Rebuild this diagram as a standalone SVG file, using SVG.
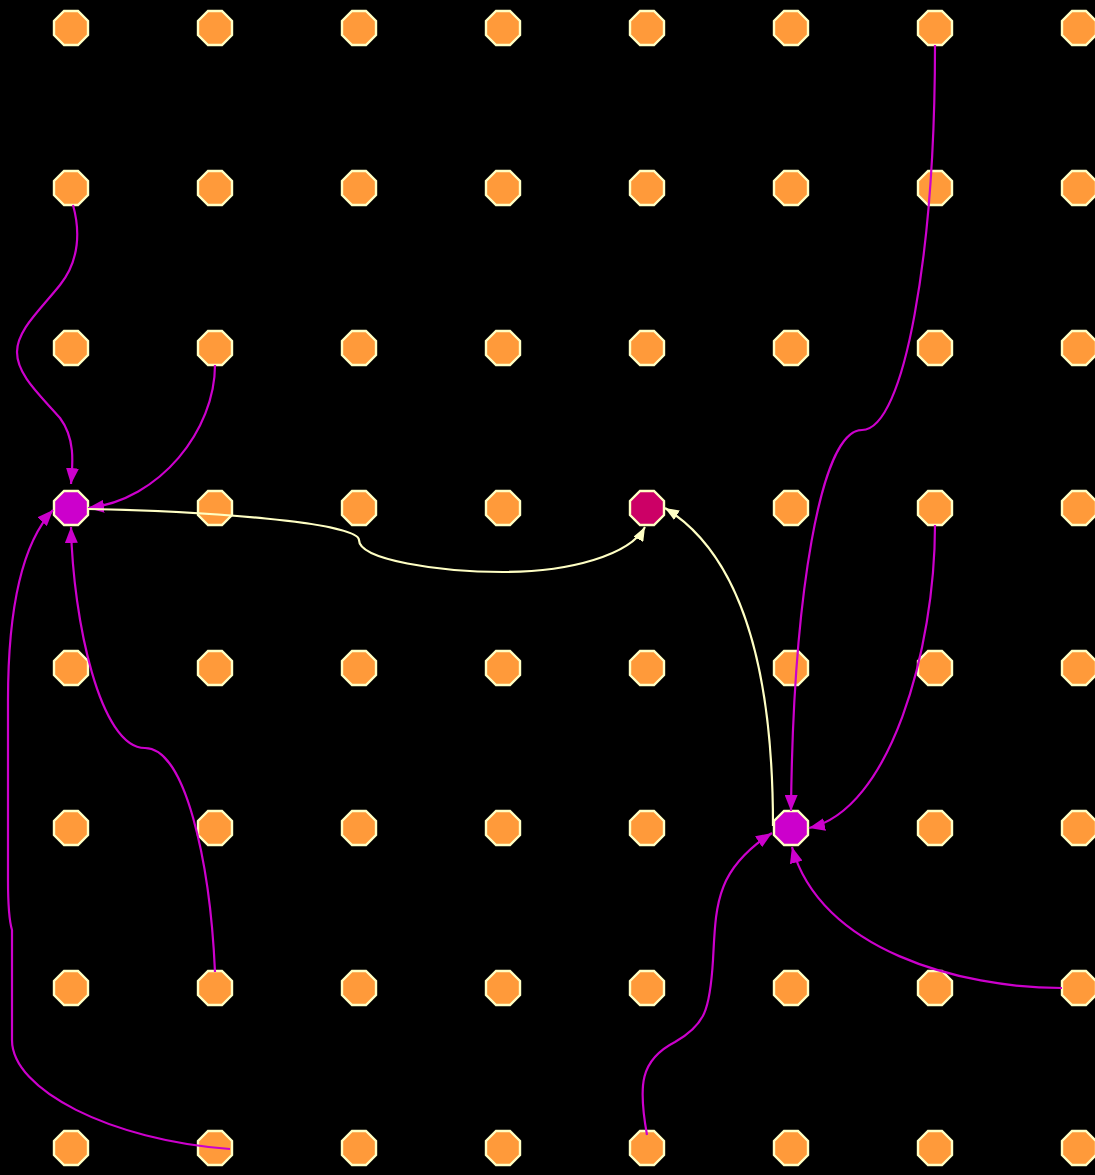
<svg xmlns="http://www.w3.org/2000/svg" xmlns:xlink="http://www.w3.org/1999/xlink" width="1095" height="1175" viewBox="0 0 1095 1175">
<style>
.n{fill:#ff9a3a;stroke:#ffffc4;stroke-width:2.4}
.m{fill:#cc00cc}
.c{fill:#cc0066}
.e{fill:none;stroke-width:2.2}
.em{stroke:#cc00cc;marker-end:url(#am)}
.ey{stroke:#ffffc4;marker-end:url(#ay)}
</style>
<defs>
<polygon id="oct" points="-7,-17 7,-17 17,-7 17,7 7,17 -7,17 -17,7 -17,-7"/>
<marker id="am" markerUnits="userSpaceOnUse" markerWidth="17" markerHeight="13" refX="16" refY="6.5" orient="auto"><path d="M0,0 L16,6.5 L0,13 z" fill="#cc00cc"/></marker>
<marker id="ay" markerUnits="userSpaceOnUse" markerWidth="15" markerHeight="11" refX="14" refY="5.5" orient="auto"><path d="M0,0 L14,5.5 L0,11 z" fill="#ffffc4"/></marker>
</defs>
<rect width="1095" height="1175" fill="#000"/>
<g id="nodes">
<g id="n0_0"><use href="#oct" class="n" x="71" y="28"/></g>
<g id="n0_1"><use href="#oct" class="n" x="215" y="28"/></g>
<g id="n0_2"><use href="#oct" class="n" x="359" y="28"/></g>
<g id="n0_3"><use href="#oct" class="n" x="503" y="28"/></g>
<g id="n0_4"><use href="#oct" class="n" x="647" y="28"/></g>
<g id="n0_5"><use href="#oct" class="n" x="791" y="28"/></g>
<g id="n0_6"><use href="#oct" class="n" x="935" y="28"/></g>
<g id="n0_7"><use href="#oct" class="n" x="1079" y="28"/></g>
<g id="n1_0"><use href="#oct" class="n" x="71" y="188"/></g>
<g id="n1_1"><use href="#oct" class="n" x="215" y="188"/></g>
<g id="n1_2"><use href="#oct" class="n" x="359" y="188"/></g>
<g id="n1_3"><use href="#oct" class="n" x="503" y="188"/></g>
<g id="n1_4"><use href="#oct" class="n" x="647" y="188"/></g>
<g id="n1_5"><use href="#oct" class="n" x="791" y="188"/></g>
<g id="n1_6"><use href="#oct" class="n" x="935" y="188"/></g>
<g id="n1_7"><use href="#oct" class="n" x="1079" y="188"/></g>
<g id="n2_0"><use href="#oct" class="n" x="71" y="348"/></g>
<g id="n2_1"><use href="#oct" class="n" x="215" y="348"/></g>
<g id="n2_2"><use href="#oct" class="n" x="359" y="348"/></g>
<g id="n2_3"><use href="#oct" class="n" x="503" y="348"/></g>
<g id="n2_4"><use href="#oct" class="n" x="647" y="348"/></g>
<g id="n2_5"><use href="#oct" class="n" x="791" y="348"/></g>
<g id="n2_6"><use href="#oct" class="n" x="935" y="348"/></g>
<g id="n2_7"><use href="#oct" class="n" x="1079" y="348"/></g>
<g id="n3_0"><use href="#oct" class="n m" x="71" y="508"/></g>
<g id="n3_1"><use href="#oct" class="n" x="215" y="508"/></g>
<g id="n3_2"><use href="#oct" class="n" x="359" y="508"/></g>
<g id="n3_3"><use href="#oct" class="n" x="503" y="508"/></g>
<g id="n3_4"><use href="#oct" class="n c" x="647" y="508"/></g>
<g id="n3_5"><use href="#oct" class="n" x="791" y="508"/></g>
<g id="n3_6"><use href="#oct" class="n" x="935" y="508"/></g>
<g id="n3_7"><use href="#oct" class="n" x="1079" y="508"/></g>
<g id="n4_0"><use href="#oct" class="n" x="71" y="668"/></g>
<g id="n4_1"><use href="#oct" class="n" x="215" y="668"/></g>
<g id="n4_2"><use href="#oct" class="n" x="359" y="668"/></g>
<g id="n4_3"><use href="#oct" class="n" x="503" y="668"/></g>
<g id="n4_4"><use href="#oct" class="n" x="647" y="668"/></g>
<g id="n4_5"><use href="#oct" class="n" x="791" y="668"/></g>
<g id="n4_6"><use href="#oct" class="n" x="935" y="668"/></g>
<g id="n4_7"><use href="#oct" class="n" x="1079" y="668"/></g>
<g id="n5_0"><use href="#oct" class="n" x="71" y="828"/></g>
<g id="n5_1"><use href="#oct" class="n" x="215" y="828"/></g>
<g id="n5_2"><use href="#oct" class="n" x="359" y="828"/></g>
<g id="n5_3"><use href="#oct" class="n" x="503" y="828"/></g>
<g id="n5_4"><use href="#oct" class="n" x="647" y="828"/></g>
<g id="n5_5"><use href="#oct" class="n m" x="791" y="828"/></g>
<g id="n5_6"><use href="#oct" class="n" x="935" y="828"/></g>
<g id="n5_7"><use href="#oct" class="n" x="1079" y="828"/></g>
<g id="n6_0"><use href="#oct" class="n" x="71" y="988"/></g>
<g id="n6_1"><use href="#oct" class="n" x="215" y="988"/></g>
<g id="n6_2"><use href="#oct" class="n" x="359" y="988"/></g>
<g id="n6_3"><use href="#oct" class="n" x="503" y="988"/></g>
<g id="n6_4"><use href="#oct" class="n" x="647" y="988"/></g>
<g id="n6_5"><use href="#oct" class="n" x="791" y="988"/></g>
<g id="n6_6"><use href="#oct" class="n" x="935" y="988"/></g>
<g id="n6_7"><use href="#oct" class="n" x="1079" y="988"/></g>
<g id="n7_0"><use href="#oct" class="n" x="71" y="1148"/></g>
<g id="n7_1"><use href="#oct" class="n" x="215" y="1148"/></g>
<g id="n7_2"><use href="#oct" class="n" x="359" y="1148"/></g>
<g id="n7_3"><use href="#oct" class="n" x="503" y="1148"/></g>
<g id="n7_4"><use href="#oct" class="n" x="647" y="1148"/></g>
<g id="n7_5"><use href="#oct" class="n" x="791" y="1148"/></g>
<g id="n7_6"><use href="#oct" class="n" x="935" y="1148"/></g>
<g id="n7_7"><use href="#oct" class="n" x="1079" y="1148"/></g>
</g>
<g id="connectors">
<path class="e em" d="M935,45 C935,250 905,430 862,430 C820,430 793,600 791,811"/>
<path class="e em" d="M73,205 C80,230 80,260 60,285 C40,310 17,330 17,352 C17,375 40,395 60,418 C75,438 73,462 71,484"/>
<path class="e em" d="M215,365 C215,430 160,500 88,508"/>
<path class="e em" d="M215,972 C210,860 185,748 145,748 C100,748 73,620 71,527"/>
<path class="e em" d="M230,1149 C110,1140 12,1090 12,1040 L12,930 C9,920 8,905 8,880 L8,700 C8,600 25,540 53,510"/>
<path class="e em" d="M647,1135 C638,1085 640,1060 675,1042 C705,1025 710,1010 713,960 C716,905 715,870 772,833"/>
<path class="e em" d="M1062,988 C960,988 820,950 792,847"/>
<path class="e em" d="M935,525 C935,650 890,810 809,828"/>
<path class="e ey" d="M88,509 C200,511 359,522 359,540 C359,560 440,572 503,572 C570,572 630,555 645,527"/>
<path class="e ey" d="M773,826 C773,690 750,560 665,508"/>
</g>
</svg>
